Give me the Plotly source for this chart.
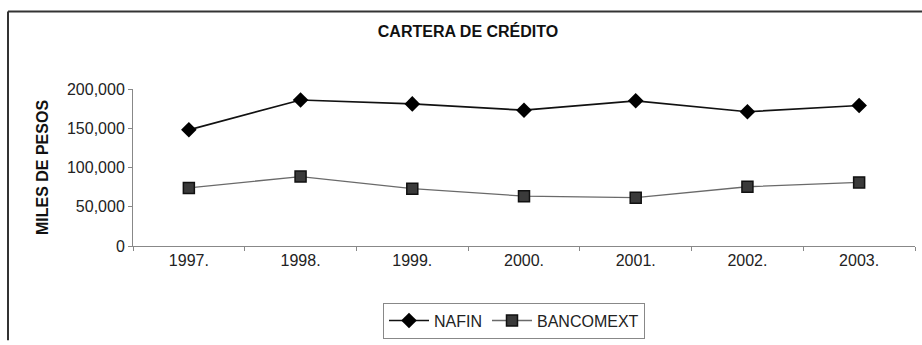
import plotly.graph_objects as go

years = ["1997.", "1998.", "1999.", "2000.", "2001.", "2002.", "2003."]
nafin = [148000, 186000, 181000, 173000, 185000, 171000, 179000]
bancomext = [74000, 88500, 73000, 63500, 61500, 75500, 81000]
y_ticks = [0, 50000, 100000, 150000, 200000]

W, H = 922, 345
L, R, T, B = 133, 7, 89, 96
pw, ph = W - L - R, H - T - B

def px(x):
    return (x - L) / pw

def py(y):
    return (H - B - y) / ph

FONT = "Liberation Sans, Arial, sans-serif"

fig = go.Figure()
fig.add_trace(go.Scatter(
    x=years, y=nafin, name="NAFIN", mode="lines+markers",
    line=dict(color="#111111", width=1.7),
    marker=dict(symbol="diamond", size=12, color="#000000"),
))
fig.add_trace(go.Scatter(
    x=years, y=bancomext, name="BANCOMEXT", mode="lines+markers",
    line=dict(color="#6a6a6a", width=1.3),
    marker=dict(symbol="square", size=11, color="#3a3a3a",
                line=dict(color="#111111", width=1.5)),
))

fig.update_layout(
    width=W, height=H,
    margin=dict(l=L, r=R, t=T, b=B),
    paper_bgcolor="white", plot_bgcolor="white",
    font=dict(family=FONT, size=16, color="#222222"),
    title=dict(text="<b>CARTERA DE CRÉDITO</b>", x=468 / W, xref="container",
               xanchor="center", y=1 - 31 / H, yref="container", yanchor="middle",
               font=dict(size=16, color="#111111")),
    showlegend=True,
    legend=dict(orientation="h", x=px(514), xanchor="center", y=py(325), yanchor="middle",
                bordercolor="#888888", borderwidth=1, bgcolor="white",
                font=dict(size=16, color="#222222"), itemwidth=40,
                tracegroupgap=0),
    shapes=[
        dict(type="line", xref="paper", yref="paper", x0=px(8), x1=px(8), y0=py(10), y1=py(345),
             line=dict(color="#333333", width=2)),
        dict(type="line", xref="paper", yref="paper", x0=px(8), x1=px(922), y0=py(10), y1=py(10),
             line=dict(color="#333333", width=2)),
    ],
)

fig.update_xaxes(
    type="category", range=[-0.5, 6.5], showgrid=False, zeroline=False,
    showline=True, linecolor="#888888", linewidth=1,
    ticks="outside", tickson="boundaries", ticklen=4, tickcolor="#888888",
    tickfont=dict(size=16, color="#222222"),
)
fig.update_yaxes(
    range=[0, 200000], tickvals=y_ticks, tickformat=",", showgrid=False, zeroline=False,
    showline=True, linecolor="#888888", linewidth=1,
    ticks="outside", ticklen=4, tickcolor="#888888",
    tickfont=dict(size=16, color="#222222"),
    title=dict(text="<b>MILES DE PESOS</b>", standoff=14, font=dict(size=16, color="#111111")),
)

fig.write_html("out.html")
